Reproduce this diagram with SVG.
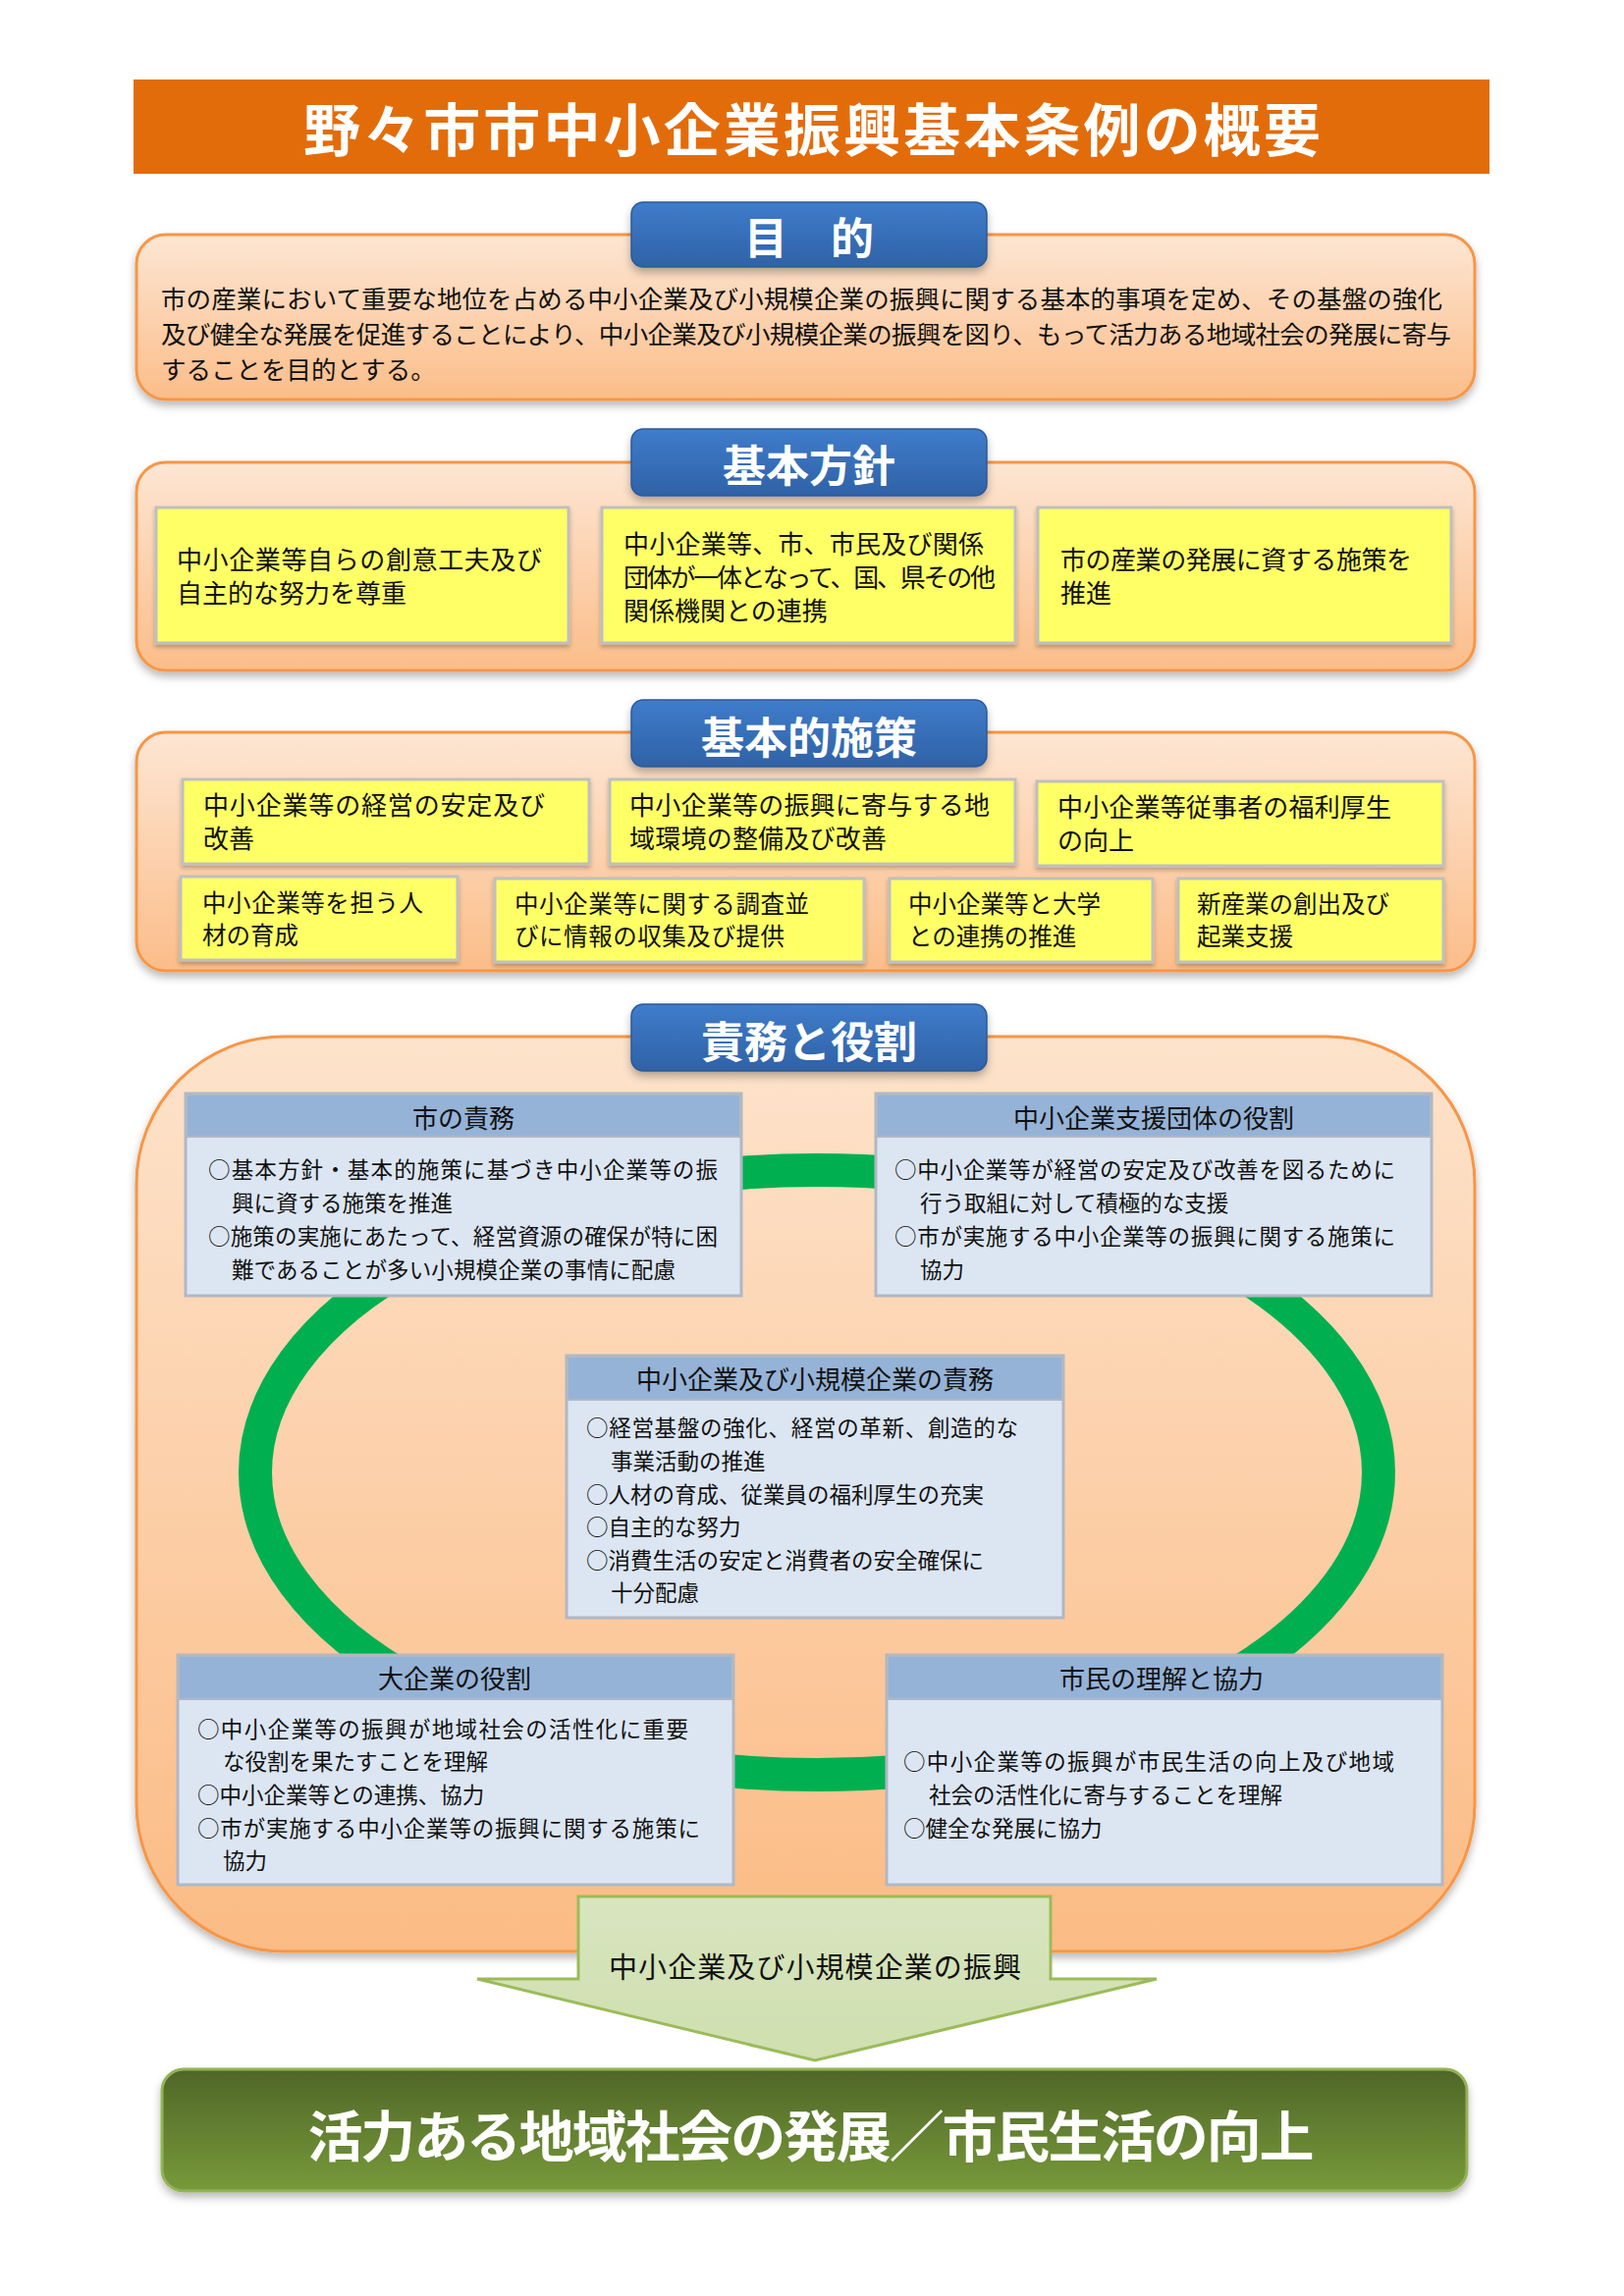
<svg xmlns="http://www.w3.org/2000/svg" width="1654" height="2339" viewBox="0 0 1654 2339">
<defs>
<linearGradient id="gOr" x1="0" y1="0" x2="0" y2="1"><stop offset="0" stop-color="#fde6d3"/><stop offset="1" stop-color="#fbbd89"/></linearGradient>
<linearGradient id="gOrBig" x1="0" y1="0" x2="0" y2="1"><stop offset="0" stop-color="#fde3cc"/><stop offset="1" stop-color="#fbbb84"/></linearGradient>
<linearGradient id="gTab" x1="0" y1="0" x2="0" y2="1"><stop offset="0" stop-color="#3f7ccb"/><stop offset="1" stop-color="#2f62a6"/></linearGradient>
<linearGradient id="gFin" x1="0" y1="0" x2="0" y2="1"><stop offset="0" stop-color="#4f6628"/><stop offset="1" stop-color="#789a3a"/></linearGradient>
<linearGradient id="gArr" x1="0" y1="0" x2="0" y2="1"><stop offset="0" stop-color="#d8e5bf"/><stop offset="1" stop-color="#cfdfae"/></linearGradient>
<filter id="sh" x="-5%" y="-10%" width="110%" height="130%"><feDropShadow dx="0" dy="5" stdDeviation="4" flood-color="#000" flood-opacity="0.28"/></filter>
<filter id="shs" x="-5%" y="-10%" width="110%" height="130%"><feDropShadow dx="0" dy="3" stdDeviation="2" flood-color="#000" flood-opacity="0.25"/></filter>
</defs>
<style>
text{font-family:"Noto Sans CJK JP","Noto Sans CJK SC",sans-serif;fill:#111;}
.title{font-size:58px;font-weight:700;fill:#fff;}
.tab{fill:url(#gTab);stroke:#2c5a98;stroke-width:1.5;filter:url(#sh);}
.tabt{font-size:44px;font-weight:700;fill:#fff;text-anchor:middle;dominant-baseline:central;}
.obox{fill:url(#gOr);stroke:#f79646;stroke-width:3;filter:url(#sh);}
.ybox{fill:#ffff66;stroke:#bfbfbf;stroke-width:3;filter:url(#shs);}
.yt{font-size:26px;dominant-baseline:central;}
.yt2{font-size:24.5px;dominant-baseline:central;}
.pt{font-size:25.5px;dominant-baseline:central;}
.bh{fill:#95b3d7;stroke:#b0b8c4;stroke-width:2;}
.bb{fill:#dce6f2;stroke:#b0b8c4;stroke-width:3;}
.bht{font-size:26px;text-anchor:middle;dominant-baseline:central;}
.bt{font-size:22.5px;dominant-baseline:central;}
.fint{font-size:56px;font-weight:700;fill:#fff;text-anchor:middle;dominant-baseline:central;}
</style>
<rect width="1654" height="2339" fill="#fff"/>

<g id="title">
<rect x="136" y="81" width="1381" height="96" fill="#e36c0a"/>
<text class="title" x="309" y="129" dominant-baseline="central" textLength="1036">野々市市中小企業振興基本条例の概要</text>
</g>

<g id="purpose">
<rect class="obox" x="139" y="239" width="1363" height="168" rx="30"/>
<rect class="tab" x="643" y="206" width="362" height="66" rx="12"/>
<text class="tabt" x="824" y="240">目　的</text>
<text class="pt" x="164" y="302" textLength="1305">市の産業において重要な地位を占める中小企業及び小規模企業の振興に関する基本的事項を定め、その基盤の強化</text>
<text class="pt" x="164" y="338" textLength="1314">及び健全な発展を促進することにより、中小企業及び小規模企業の振興を図り、もって活力ある地域社会の発展に寄与</text>
<text class="pt" x="164" y="374">することを目的とする。</text>
</g>

<g id="policy">
<rect class="obox" x="139" y="471" width="1363" height="212" rx="30"/>
<rect class="tab" x="643" y="437" width="362" height="68" rx="12"/>
<text class="tabt" x="824" y="472">基本方針</text>
<g id="policy1">
<rect class="ybox" x="159" y="517" width="420" height="138"/>
<text class="yt" x="180" y="568" textLength="372">中小企業等自らの創意工夫及び</text>
<text class="yt" x="180" y="602">自主的な努力を尊重</text>
</g>
<g id="policy2">
<rect class="ybox" x="613" y="517" width="421" height="138"/>
<text class="yt" x="635" y="552" textLength="367">中小企業等、市、市民及び関係</text>
<text class="yt" x="635" y="586" textLength="379">団体が一体となって、国、県その他</text>
<text class="yt" x="635" y="620">関係機関との連携</text>
</g>
<g id="policy3">
<rect class="ybox" x="1057" y="517" width="421" height="138"/>
<text class="yt" x="1080" y="568" textLength="358">市の産業の発展に資する施策を</text>
<text class="yt" x="1080" y="602">推進</text>
</g>
</g>

<g id="measures">
<rect class="obox" x="139" y="746" width="1363" height="243" rx="30"/>
<rect class="tab" x="643" y="713" width="362" height="68" rx="12"/>
<text class="tabt" x="824" y="749">基本的施策</text>
<g id="m1"><rect class="ybox" x="186" y="794" width="414" height="86"/>
<text class="yt" x="207" y="818" textLength="348">中小企業等の経営の安定及び</text>
<text class="yt" x="207" y="852">改善</text></g>
<g id="m2"><rect class="ybox" x="621" y="794" width="413" height="86"/>
<text class="yt" x="641" y="818" textLength="367">中小企業等の振興に寄与する地</text>
<text class="yt" x="641" y="852" textLength="262">域環境の整備及び改善</text></g>
<g id="m3"><rect class="ybox" x="1056" y="796" width="414" height="86"/>
<text class="yt" x="1077" y="820" textLength="340">中小企業等従事者の福利厚生</text>
<text class="yt" x="1077" y="854">の向上</text></g>
<g id="m4"><rect class="ybox" x="184" y="893" width="282" height="85"/>
<text class="yt2" x="206" y="918" textLength="225">中小企業等を担う人</text>
<text class="yt2" x="206" y="951">材の育成</text></g>
<g id="m5"><rect class="ybox" x="504" y="895" width="376" height="85"/>
<text class="yt2" x="524" y="919" textLength="300">中小企業等に関する調査並</text>
<text class="yt2" x="524" y="952" textLength="275">びに情報の収集及び提供</text></g>
<g id="m6"><rect class="ybox" x="906" y="895" width="268" height="85"/>
<text class="yt2" x="925" y="919">中小企業等と大学</text>
<text class="yt2" x="925" y="952">との連携の推進</text></g>
<g id="m7"><rect class="ybox" x="1200" y="895" width="270" height="85"/>
<text class="yt2" x="1219" y="919">新産業の創出及び</text>
<text class="yt2" x="1219" y="952">起業支援</text></g>
</g>

<g id="roles-frame">
<rect class="obox" style="fill:url(#gOrBig)" x="139" y="1056" width="1363" height="932" rx="150"/>
</g>

<g id="connectors">
<ellipse cx="832" cy="1500" rx="572" ry="308" fill="none" stroke="#00b050" stroke-width="34"/>
</g>

<g id="roles-tab">
<rect class="tab" x="643" y="1023" width="362" height="68" rx="12"/>
<text class="tabt" x="824" y="1059">責務と役割</text>
</g>

<g id="city">
<rect class="bb" x="189" y="1114" width="566" height="206"/>
<rect class="bh" x="190" y="1115" width="564" height="43"/>
<text class="bht" x="472" y="1137">市の責務</text>
<text class="bt" x="212" y="1190" textLength="519">○基本方針・基本的施策に基づき中小企業等の振</text>
<text class="bt" x="236" y="1224">興に資する施策を推進</text>
<text class="bt" x="212" y="1258" textLength="519">○施策の実施にあたって、経営資源の確保が特に困</text>
<text class="bt" x="236" y="1292" textLength="452">難であることが多い小規模企業の事情に配慮</text>
</g>

<g id="support">
<rect class="bb" x="892" y="1114" width="566" height="206"/>
<rect class="bh" x="893" y="1115" width="564" height="43"/>
<text class="bht" x="1175" y="1137">中小企業支援団体の役割</text>
<text class="bt" x="911" y="1190" textLength="510">○中小企業等が経営の安定及び改善を図るために</text>
<text class="bt" x="937" y="1224">行う取組に対して積極的な支援</text>
<text class="bt" x="911" y="1258" textLength="510">○市が実施する中小企業等の振興に関する施策に</text>
<text class="bt" x="937" y="1292">協力</text>
</g>

<g id="sme">
<rect class="bb" x="577" y="1381" width="506" height="267"/>
<rect class="bh" x="578" y="1382" width="504" height="44"/>
<text class="bht" x="830" y="1403">中小企業及び小規模企業の責務</text>
<text class="bt" x="597" y="1453" textLength="440">○経営基盤の強化、経営の革新、創造的な</text>
<text class="bt" x="622" y="1487">事業活動の推進</text>
<text class="bt" x="597" y="1521" textLength="405">○人材の育成、従業員の福利厚生の充実</text>
<text class="bt" x="597" y="1554">○自主的な努力</text>
<text class="bt" x="597" y="1588" textLength="405">○消費生活の安定と消費者の安全確保に</text>
<text class="bt" x="622" y="1621">十分配慮</text>
</g>

<g id="large">
<rect class="bb" x="181" y="1686" width="566" height="234"/>
<rect class="bh" x="182" y="1687" width="564" height="44"/>
<text class="bht" x="463" y="1708">大企業の役割</text>
<text class="bt" x="201" y="1760" textLength="500">○中小企業等の振興が地域社会の活性化に重要</text>
<text class="bt" x="227" y="1793">な役割を果たすことを理解</text>
<text class="bt" x="201" y="1827">○中小企業等との連携、協力</text>
<text class="bt" x="201" y="1861" textLength="512">○市が実施する中小企業等の振興に関する施策に</text>
<text class="bt" x="227" y="1894">協力</text>
</g>

<g id="citizens">
<rect class="bb" x="903" y="1686" width="566" height="234"/>
<rect class="bh" x="904" y="1687" width="564" height="44"/>
<text class="bht" x="1183" y="1708">市民の理解と協力</text>
<text class="bt" x="920" y="1793" textLength="500">○中小企業等の振興が市民生活の向上及び地域</text>
<text class="bt" x="946" y="1827">社会の活性化に寄与することを理解</text>
<text class="bt" x="920" y="1861">○健全な発展に協力</text>
</g>

<g id="arrow">
<polygon points="589,1932 1070,1932 1070,2016 1178,2016 830,2099 486,2016 589,2016" fill="url(#gArr)" stroke="#9bbb59" stroke-width="3" stroke-linejoin="miter"/>
<text x="830" y="2002" style="font-size:29px;text-anchor:middle;dominant-baseline:central" textLength="420">中小企業及び小規模企業の振興</text>
</g>

<g id="goal">
<rect x="165" y="2108" width="1329" height="124" rx="22" fill="url(#gFin)" stroke="#93b356" stroke-width="3" filter="url(#sh)"/>
<text class="fint" x="826" y="2172" textLength="1025">活力ある地域社会の発展／市民生活の向上</text>
</g>
</svg>
